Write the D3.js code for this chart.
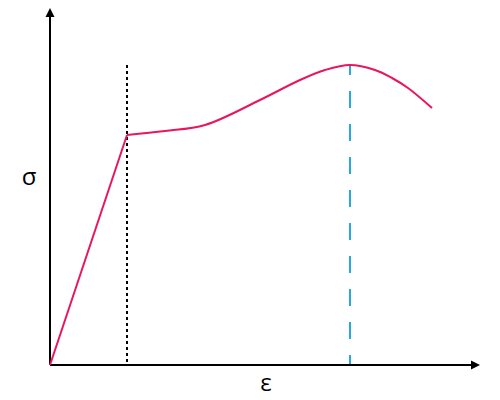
<!DOCTYPE html>
<html><head><meta charset="utf-8">
<script src="https://cdn.jsdelivr.net/npm/d3@7"></script>
<style>body{margin:0;background:#fff}svg{display:block}</style>
</head><body>
<script>
// strain (x) and stress (y) in arbitrary units
const elasticStrain = [0, 77];
const elasticStress = [0, 230];
const plasticStrain = [77, 115, 155, 210, 250, 275, 300, 325, 342, 358, 382];
const plasticStress = [230, 234, 240, 265, 285, 295, 300, 295, 287, 277, 257];
const yieldStrain = 77;   // dotted black line
const ultimateStrain = 300; // dashed blue line
const guideTop = 300;
const axisLabels = ["σ", "ε"];

const W = 500, H = 400;
const svg = d3.select("body").append("svg").attr("width", W).attr("height", H);
const x = d3.scaleLinear().domain([0, 430]).range([50, 480]);
const y = d3.scaleLinear().domain([0, 355]).range([365, 10]);

// guide lines
svg.append("line")
  .attr("x1", x(yieldStrain)).attr("x2", x(yieldStrain))
  .attr("y1", y(guideTop)).attr("y2", y(0))
  .attr("stroke", "#000").attr("stroke-width", 2)
  .attr("stroke-dasharray", "3,3");
svg.append("line")
  .attr("x1", x(ultimateStrain)).attr("x2", x(ultimateStrain))
  .attr("y1", y(guideTop)).attr("y2", y(0))
  .attr("stroke", "#29a8e0").attr("stroke-width", 2)
  .attr("stroke-dasharray", "17,16").attr("stroke-dashoffset", 7);

// axes
svg.append("line").attr("x1", x(0)).attr("x2", x(0)).attr("y1", y(0)).attr("y2", 16)
  .attr("stroke", "#000").attr("stroke-width", 2);
svg.append("path").attr("d", `M${x(0)-4.5},17L${x(0)},8L${x(0)+4.5},17Z`).attr("fill", "#000");
svg.append("line").attr("x1", x(0)).attr("x2", 472).attr("y1", y(0)).attr("y2", y(0))
  .attr("stroke", "#000").attr("stroke-width", 2);
svg.append("path").attr("d", `M471,${y(0)-4.5}L480,${y(0)}L471,${y(0)+4.5}Z`).attr("fill", "#000");

// curve
const col = "#e8175d";
svg.append("path")
  .datum(elasticStrain.map((d, i) => [d, elasticStress[i]]))
  .attr("d", d3.line().x(d => x(d[0])).y(d => y(d[1])))
  .attr("fill", "none").attr("stroke", col).attr("stroke-width", 2);
svg.append("path")
  .datum(plasticStrain.map((d, i) => [d, plasticStress[i]]))
  .attr("d", d3.line().x(d => x(d[0])).y(d => y(d[1])).curve(d3.curveCatmullRom.alpha(0.5)))
  .attr("fill", "none").attr("stroke", col).attr("stroke-width", 2);

// labels
svg.append("text").attr("x", 29).attr("y", 185).attr("text-anchor", "middle")
  .attr("font-family", "Open Sans").attr("font-size", 24).text(axisLabels[0]);
svg.append("text").attr("x", 266).attr("y", 391).attr("text-anchor", "middle")
  .attr("font-family", "Open Sans").attr("font-size", 24).text(axisLabels[1]);
</script>
</body></html>
